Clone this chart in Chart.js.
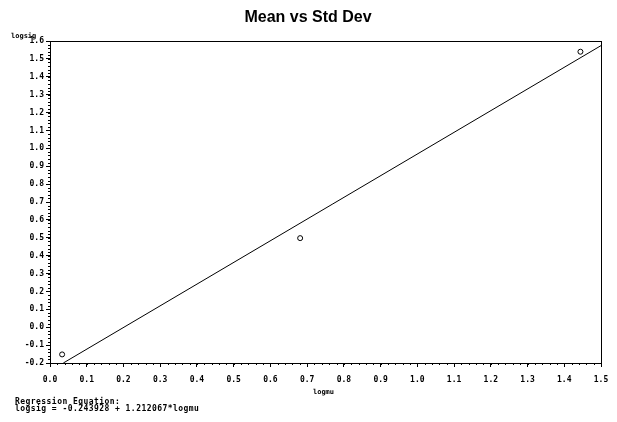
<!DOCTYPE html>
<html>
<head>
<meta charset="utf-8">
<script src="https://cdn.jsdelivr.net/npm/chart.js@4"></script>
<style>
  html, body { margin: 0; padding: 0; background: #fff; }
  #wrap { width: 617px; height: 422px; }
</style>
</head>
<body>
<div id="wrap"><canvas id="meanChart" width="617" height="422"></canvas></div>
<script>
// observed (logmu, logsig) pairs
const logmu = [0.033, 0.681, 1.444];
const logsig = [-0.152, 0.498, 1.540];
// regression from the reference footnote
const intercept = -0.243928;
const slope = 1.212067;
const xRange = [0, 1.5];
const yRange = [-0.2, 1.6];

const points = logmu.map((x, i) => ({ x: x, y: logsig[i] }));
const lineStart = (yRange[0] - intercept) / slope;
const fitLine = [lineStart, xRange[1]].map(x => ({ x: x, y: intercept + slope * x }));

const tickFont = { family: 'DejaVu Sans Mono', size: 8, weight: 'bold' };
const fmt = v => (Math.round(v * 10) / 10).toFixed(1);

const frameAndText = {
  id: 'frameAndText',
  afterDraw(chart) {
    const c = chart.ctx;
    const a = chart.chartArea;
    const xs = chart.scales.x, ys = chart.scales.y;
    c.save();
    c.strokeStyle = '#000';
    c.lineWidth = 1;
    // box
    c.strokeRect(Math.round(a.left) + 0.5, Math.round(a.top) + 0.5,
      Math.round(a.right - a.left), Math.round(a.bottom - a.top));
    // minor ticks
    c.beginPath();
    for (let v = xRange[0]; v <= xRange[1] + 1e-9; v += 0.02) {
      const px = Math.round(xs.getPixelForValue(v)) + 0.5;
      c.moveTo(px, a.bottom);
      c.lineTo(px, a.bottom + 2);
    }
    for (let v = yRange[0]; v <= yRange[1] + 1e-9; v += 0.02) {
      const py = Math.round(ys.getPixelForValue(v)) + 0.5;
      c.moveTo(a.left, py);
      c.lineTo(a.left - 2, py);
    }
    c.stroke();
    // titles
    c.fillStyle = '#000';
    c.textAlign = 'center';
    c.textBaseline = 'middle';
    c.font = 'bold 16px "Liberation Sans", Arial, sans-serif';
    c.fillText('Mean vs Std Dev', 308, 18);
    c.font = 'bold 7px "DejaVu Sans Mono"';
    c.fillText('logmu', (a.left + a.right) / 2 - 2, 392);
    c.textAlign = 'left';
    c.fillText('logsig', 11, 36);
    c.font = 'bold 8px "DejaVu Sans Mono", monospace';
    c.letterSpacing = '0.45px';
    c.fillText('Regression Equation:', 15, 402);
    c.fillText('logsig = -0.243928 + 1.212067*logmu', 15, 409);
    c.restore();
  }
};

const ctx = document.getElementById('meanChart').getContext('2d');
const meanChart = new Chart(ctx, {
  type: 'scatter',
  data: {
    datasets: [{
      label: 'logsig',
      data: points,
      pointStyle: 'circle',
      pointRadius: 2.5,
      pointBorderWidth: 1,
      pointBorderColor: '#000',
      pointBackgroundColor: '#fff',
      showLine: false
    }, {
      label: 'fit',
      data: fitLine,
      showLine: true,
      borderColor: '#000',
      borderWidth: 1,
      pointRadius: 0
    }]
  },
  options: {
    responsive: false,
    animation: false,
    layout: { padding: { left: 0, right: 16, top: 41, bottom: 0 } },
    plugins: {
      legend: { display: false },
      tooltip: { enabled: false },
      title: { display: false }
    },
    scales: {
      x: {
        type: 'linear',
        min: xRange[0],
        max: xRange[1],
        afterFit: s => { s.height = 59; },
        grid: { drawOnChartArea: false, tickLength: 4, color: '#000' },
        border: { color: '#000', width: 1 },
        ticks: {
          stepSize: 0.1,
          color: '#000',
          font: tickFont,
          padding: 8,
          maxRotation: 0,
          autoSkip: false,
          callback: v => fmt(v)
        }
      },
      y: {
        type: 'linear',
        min: yRange[0],
        max: yRange[1],
        afterFit: s => { s.width = 50; },
        grid: { drawOnChartArea: false, tickLength: 4, color: '#000' },
        border: { color: '#000', width: 1 },
        ticks: {
          stepSize: 0.1,
          color: '#000',
          font: tickFont,
          padding: 2,
          autoSkip: false,
          callback: v => fmt(v)
        }
      }
    }
  },
  plugins: [frameAndText]
});
</script>
</body>
</html>
